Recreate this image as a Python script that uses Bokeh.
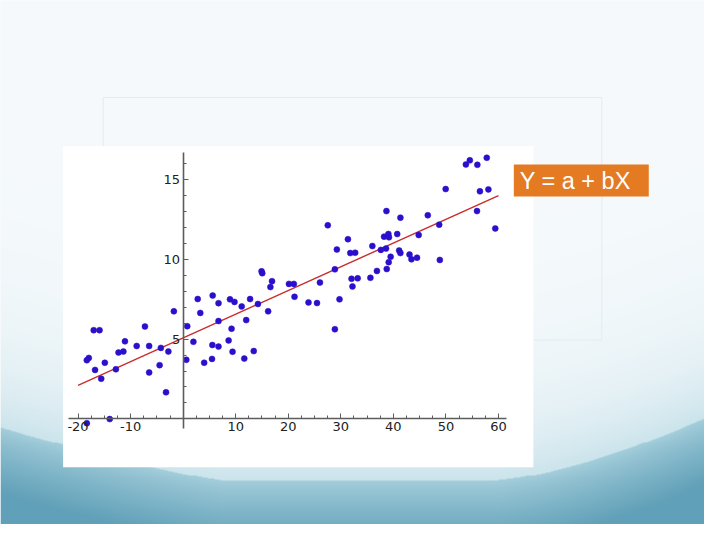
import numpy as np
from bokeh.plotting import figure
from bokeh.models import Range1d, LinearAxis, FixedTicker, Label
from bokeh.embed import file_html
from bokeh.resources import INLINE

# ---------------- data ----------------
x_vals = [-18.33, -17.95, -17.02, -15.91, -16.76, -14.90, -15.59, -12.80, -12.30, -11.37,
          -11.07, -8.84, -7.27, -6.47, -6.47, -4.48, -4.24, -3.26, -2.81, -1.77,
          0.60, 0.78, -18.33, -13.97,
          1.95, 2.77, 3.26, 4.00, 5.62, 5.56, 5.49, 6.73, 6.73, 6.73,
          8.91, 9.77, 9.21, 8.65, 9.40, 11.14, 12.00, 11.63, 12.74, 13.43,
          14.23, 14.92, 15.05, 16.17, 16.60, 16.91, 20.13, 21.06, 21.19,
          23.85, 25.47, 26.03, 27.52, 28.87, 29.25, 29.75, 28.87, 31.35, 31.80,
          32.73, 32.04, 32.22, 33.21, 35.63, 36.00, 36.87, 37.62, 38.60, 38.23,
          39.05, 39.16, 38.68, 40.73, 39.48, 39.11, 38.74, 41.10, 41.34, 41.34,
          43.07, 43.44, 44.50, 44.82, 46.55, 48.72, 48.84, 49.95, 53.80, 54.55,
          55.98, 57.77, 56.47, 58.08, 55.91, 59.39]
y_vals = [3.68, 3.82, 5.56, 5.56, 3.07, 3.52, 2.52, 3.11, 4.16, 4.22,
          4.86, 4.57, 5.79, 4.57, 2.91, 3.37, 4.45, 1.67, 4.22, 6.74,
          3.70, 5.81, -0.27, -0.01,
          4.83, 7.51, 6.64, 3.52, 7.73, 4.63, 3.76, 7.25, 6.13, 4.53,
          7.49, 7.33, 5.65, 4.92, 4.21, 7.05, 6.19, 3.78, 7.51, 4.25,
          7.20, 9.25, 9.13, 6.74, 8.26, 8.63, 8.46, 8.46, 7.65,
          7.30, 7.26, 8.54, 12.13, 9.37, 10.61, 7.49, 5.62, 11.26, 10.39,
          10.41, 8.78, 8.30, 8.81, 8.84, 10.83, 9.27, 10.59, 10.67, 11.42,
          11.58, 11.38, 13.02, 11.58, 10.16, 9.82, 9.39, 10.55, 10.39, 12.61,
          10.30, 10.00, 10.10, 11.52, 12.76, 12.17, 9.96, 14.40, 15.94, 16.20,
          15.92, 16.36, 14.26, 14.38, 13.02, 11.93]
fit_x = [-20, 60]
fit_y = [2.10, 13.99]
x_major = [-20, -10, 10, 20, 30, 40, 50, 60]
y_major = [5, 10, 15]
equation = "Y = a + bX"

# ---------------- layout constants (slide pixels, 720 x 540 slide) ----------------
W, H = 704, 524
X0PX, XS = 186.8, 5.375     # slide x of data x=0, px per unit
Y0PX, YS = 431.2, 16.45     # slide y of data y=0, px per unit


def Y(v):
    return 540 - v


p = figure(width=W, height=H, output_backend="svg", toolbar_location=None,
           x_range=Range1d(0, 720), y_range=Range1d(0, 540),
           x_axis_type=None, y_axis_type=None, min_border=0,
           outline_line_color=None, background_fill_color="#f6fafc",
           border_fill_color="#f6fafc")
p.grid.visible = False
p.extra_x_ranges = {"dx": Range1d((0 - X0PX) / XS, (720 - X0PX) / XS)}
p.extra_y_ranges = {"dy": Range1d((Y0PX - 540) / YS, Y0PX / YS)}

# ---------------- slide background (decoration) ----------------
nx, ny = 720, 540
u = np.arange(nx) + 0.5
v = (ny - 0.5) - np.arange(ny)
U, V = np.meshgrid(u, v)
left = 495 - 55 * np.clip((230 - U) / 230, 0, 1) ** 1.2
right = 495 - 64 * np.clip((U - 500) / 220, 0, 1) ** 1.5
vb = np.minimum(left, right)
d = V - vb
C0 = np.array([246, 250, 252], float)
C1 = np.array([196, 224, 233], float)
C2 = np.array([166, 207, 220], float)
C3 = np.array([96, 160, 184], float)
t = (np.exp(np.minimum(d, 0) / 70.0) * 0.85)[..., None]
above = C0 + (C1 - C0) * t
s = (np.clip(d / 70.0, 0, 1) ** 0.8)[..., None]
below = C2 + (C3 - C2) * s
rgb = np.where((d < 0)[..., None], above, below)
img = np.empty((ny, nx, 4), dtype=np.uint8)
img[..., :3] = np.clip(rgb, 0, 255).astype(np.uint8)
img[..., 3] = 255
p.image_rgba(image=[img.view(np.uint32).reshape(ny, nx)], x=0, y=0, dw=720, dh=540,
             level="image")

# faint placeholder frame of the slide
p.quad(left=105, right=615, top=Y(100), bottom=Y(350), fill_color=None,
       line_color="#e2ecf1", line_width=1)
# white picture area
p.quad(left=64, right=545, top=Y(150), bottom=Y(481), fill_color="white",
       line_color=None)

# ---------------- chart ----------------
p.line(fit_x, fit_y, x_range_name="dx", y_range_name="dy",
       line_color="#cc2b2b", line_width=1.4)
p.scatter(x_vals, y_vals, x_range_name="dx", y_range_name="dy",
          size=6, fill_color="#2a10cc", line_color="#2a10cc", line_width=0.5)


def style(ax):
    ax.axis_line_color = "#5c5c5c"
    ax.axis_line_width = 1.6
    ax.major_tick_line_color = "#5c5c5c"
    ax.minor_tick_line_color = "#5c5c5c"
    ax.major_tick_in = 5
    ax.major_tick_out = 0
    ax.minor_tick_in = 3
    ax.minor_tick_out = 0
    ax.major_label_text_font = "DejaVu Sans"
    ax.major_label_text_font_size = "13px"
    ax.major_label_text_color = "#222222"
    ax.major_label_standoff = 3


xaxis = LinearAxis(x_range_name="dx", y_range_name="dy", fixed_location=0,
                   bounds=(-21.8, 61.6),
                   ticker=FixedTicker(ticks=x_major,
                                      minor_ticks=[float(t) for t in np.arange(-20, 61, 2.5)]))
style(xaxis)
xaxis.major_label_overrides = {-20: "-20", -10: "-10"}
p.add_layout(xaxis, "below")

yaxis = LinearAxis(x_range_name="dx", y_range_name="dy", fixed_location=0,
                   bounds=(-0.6, 16.7),
                   ticker=FixedTicker(ticks=y_major, minor_ticks=list(range(0, 17))))
style(yaxis)
p.add_layout(yaxis, "left")

# ---------------- equation box ----------------
p.quad(left=525, right=663, top=Y(169), bottom=Y(202), fill_color="#e47a22",
       line_color=None)
p.add_layout(Label(x=531, y=Y(186.5), text=equation, text_color="white",
                   text_font="Liberation Sans", text_font_size="23.5px",
                   text_baseline="middle"))

open("out.html", "w").write(file_html(p, INLINE))
